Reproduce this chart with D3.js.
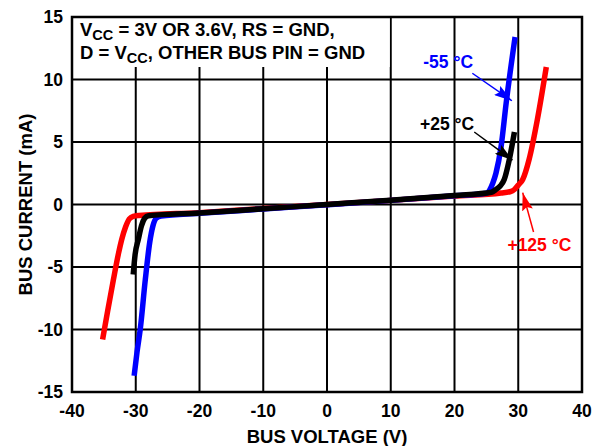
<!DOCTYPE html>
<html>
<head>
<meta charset="utf-8">
<script src="https://cdn.jsdelivr.net/npm/d3@7"></script>
<style>
  body { margin: 0; background: #fff; }
  text { font-family: "Liberation Sans", Arial, sans-serif; font-weight: bold; }
</style>
</head>
<body>
<div id="chart"></div>
<script>
// data: [bus voltage (V), bus current (mA)]
const xTicks = [-40, -30, -20, -10, 0, 10, 20, 30, 40];
const yTicks = [-15, -10, -5, 0, 5, 10, 15];

const curveRed = [[-35.2, -10.8], [-34.4, -8.5], [-33.5, -6.0], [-32.7, -3.9], [-32.2, -2.8], [-31.6, -1.8], [-31.0, -1.15], [-30.4, -0.95], [-29.5, -0.88], [-20, -0.65], [-10, -0.32], [0, 0], [10, 0.33], [20, 0.68], [27.3, 0.92], [28.7, 1.02], [29.4, 1.2], [30.0, 1.55], [30.7, 2.0], [31.7, 3.6], [33.0, 6.8], [34.4, 11.0]];
const curveBlue = [[-30.25, -13.7], [-29.8, -11.8], [-29.3, -10.0], [-28.5, -6.0], [-27.8, -3.0], [-27.3, -1.7], [-26.8, -1.1], [-26.0, -0.92], [-20, -0.7], [-10, -0.36], [0, -0.02], [10, 0.33], [20, 0.7], [25.0, 0.9], [25.5, 1.15], [26.0, 1.7], [26.5, 2.5], [27.3, 4.6], [28.1, 8.1], [29.5, 13.4]];
const curveBlack = [[-30.4, -5.6], [-30.1, -4.0], [-29.6, -2.8], [-29.1, -1.7], [-28.6, -1.1], [-28.0, -0.9], [-20, -0.68], [-10, -0.34], [0, 0], [10, 0.34], [20, 0.72], [25.8, 0.98], [26.5, 1.2], [27.2, 1.5], [27.8, 2.0], [28.6, 3.6], [29.4, 5.8]];

const series = [
  {name: "+125", color: "#ff0000", values: curveRed},
  {name: "-55", color: "#0000ff", values: curveBlue},
  {name: "+25", color: "#000000", values: curveBlack}
];

// labels: text start, arrow start, arrow tip (data units)
const notes = [
  {text: "-55 °C", color: "#0000ff", at: [15.1, 10.9], from: [22.8, 10.5], to: [29.0, 8.3]},
  {text: "+25 °C", color: "#000000", at: [14.6, 6.0], from: [23.1, 5.8], to: [29.1, 3.55]},
  {text: "+125 °C", color: "#ff0000", at: [28.3, -3.7], from: [32.4, -2.2], to: [30.7, 0.95]}
];

const W = 605, H = 446;
const margin = {left: 72, right: 23, top: 17, bottom: 54};
const width = W - margin.left - margin.right;
const height = H - margin.top - margin.bottom;

let svg = d3.select("#chart").append("svg")
  .attr("width", W)
  .attr("height", H);

let defs = svg.append("defs");
notes.forEach((n, i) => {
  defs.append("marker")
    .attr("id", "arrow" + i)
    .attr("markerUnits", "userSpaceOnUse")
    .attr("viewBox", "0 0 18 11")
    .attr("refX", 18).attr("refY", 5.5)
    .attr("markerWidth", 18).attr("markerHeight", 11)
    .attr("orient", "auto")
    .append("path")
    .attr("d", "M0,0 L18,5.5 L0,11 L3,5.5 Z")
    .attr("fill", n.color);
});

let graph = svg.append("g")
  .attr("transform", "translate(" + margin.left + "," + margin.top + ")");

let x = d3.scaleLinear().domain([-40, 40]).range([0, width]);
let y = d3.scaleLinear().domain([-15, 15]).range([height, 0]);

// grid
graph.append("g").selectAll("line").data(xTicks).enter().append("line")
  .attr("x1", d => x(d)).attr("x2", d => x(d))
  .attr("y1", 0).attr("y2", height)
  .attr("stroke", "#000").attr("stroke-width", 2);
graph.append("g").selectAll("line").data(yTicks).enter().append("line")
  .attr("x1", 0).attr("x2", width)
  .attr("y1", d => y(d)).attr("y2", d => y(d))
  .attr("stroke", "#000").attr("stroke-width", 2);

// condition box (white patch over the grid, top left)
graph.append("rect")
  .attr("x", 1).attr("y", 1)
  .attr("width", x(10) - 2).attr("height", y(11) - 1)
  .attr("fill", "#fff");

let cond = graph.append("g").attr("font-size", 18.5);
let l1 = cond.append("text").attr("x", 8).attr("y", 19);
l1.append("tspan").text("V");
l1.append("tspan").attr("font-size", 14.5).attr("dy", 4).text("CC");
l1.append("tspan").attr("dy", -4).text(" = 3V OR 3.6V, RS = GND,");
let l2 = cond.append("text").attr("x", 8).attr("y", 42);
l2.append("tspan").text("D = V");
l2.append("tspan").attr("font-size", 14.5).attr("dy", 4).text("CC");
l2.append("tspan").attr("dy", -4).text(", OTHER BUS PIN = GND");

// frame
graph.append("rect")
  .attr("width", width).attr("height", height)
  .attr("fill", "none").attr("stroke", "#000").attr("stroke-width", 2.5);

// axes labels
graph.append("g").selectAll("text").data(xTicks).enter().append("text")
  .attr("x", d => x(d)).attr("y", height + 25)
  .attr("text-anchor", "middle").attr("font-size", 17.5)
  .text(d => d);
graph.append("g").selectAll("text").data(yTicks).enter().append("text")
  .attr("x", -9).attr("y", d => y(d) + 6)
  .attr("text-anchor", "end").attr("font-size", 17.5)
  .text(d => d);

graph.append("text")
  .attr("x", width / 2).attr("y", height + 51)
  .attr("text-anchor", "middle").attr("font-size", 18.5)
  .text("BUS VOLTAGE (V)");
graph.append("text")
  .attr("transform", "translate(-40," + (height / 2) + ") rotate(-90)")
  .attr("text-anchor", "middle").attr("font-size", 18.5)
  .text("BUS CURRENT (mA)");

// curves
let valueline = d3.line()
  .x(d => x(d[0]))
  .y(d => y(d[1]))
  .curve(d3.curveMonotoneX);

graph.append("g").selectAll("path").data(series).enter().append("path")
  .attr("d", d => valueline(d.values))
  .attr("fill", "none")
  .attr("stroke", d => d.color)
  .attr("stroke-width", 5.5)
  .attr("stroke-linejoin", "round");

// annotations
notes.forEach((n, i) => {
  graph.append("text")
    .attr("x", x(n.at[0])).attr("y", y(n.at[1]))
    .attr("fill", n.color).attr("font-size", 17.5)
    .text(n.text);
  graph.append("line")
    .attr("x1", x(n.from[0])).attr("y1", y(n.from[1]))
    .attr("x2", x(n.to[0])).attr("y2", y(n.to[1]))
    .attr("stroke", n.color).attr("stroke-width", 1.5)
    .attr("marker-end", "url(#arrow" + i + ")");
});
</script>
</body>
</html>
